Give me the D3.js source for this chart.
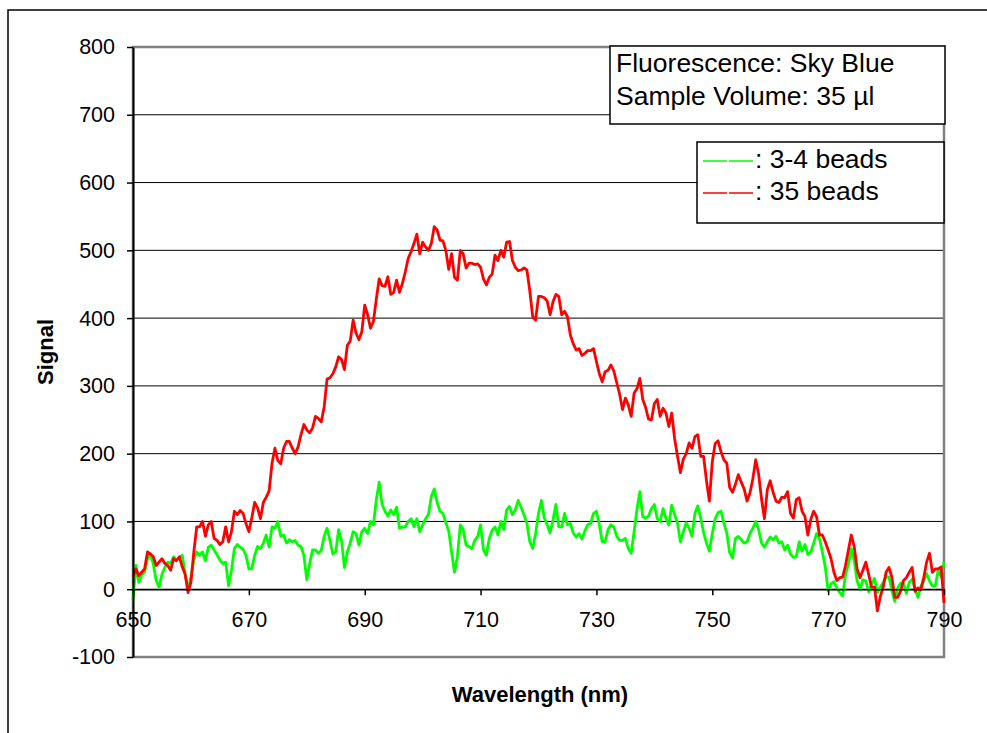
<!DOCTYPE html>
<html>
<head>
<meta charset="utf-8">
<script src="https://cdn.jsdelivr.net/npm/d3@7"></script>
<style>
  body { margin: 0; background: #fff; }
  text { font-family: "Liberation Sans", Arial, sans-serif; }
</style>
</head>
<body>
<div id="chart"></div>
<script>
// wavelength grid, 0.5 nm steps from 650 to 790
var wavelengths = d3.range(0, 281).map(function (i) { return 650 + i * 0.5; });

// 35 beads (red)
var beads35 = [
  18, 30, 20, 25, 30, 55, 52, 48, 35, 40, 45, 38, 35, 28, 45, 42, 48, 33, 22, -5,
  10, 55, 92, 92, 100, 78, 95, 100, 75, 72, 66, 70, 92, 70, 85, 115, 110, 116, 112, 97,
  85, 105, 128, 120, 104, 128, 136, 145, 186, 208, 190, 185, 208, 218, 218, 208, 200, 210, 228, 243,
  235, 231, 238, 255, 252, 247, 269, 310, 312, 318, 328, 343, 339, 324, 360, 366, 397, 378, 368, 380,
  419, 405, 385, 395, 428, 458, 448, 447, 461, 435, 438, 456, 438, 451, 468, 488, 498, 510, 524, 495,
  512, 505, 500, 510, 535, 530, 515, 514, 500, 472, 495, 460, 456, 500, 495, 474, 481, 481, 479, 480,
  475, 458, 449, 460, 465, 493, 485, 500, 490, 512, 513, 485, 475, 470, 471, 474, 471, 440, 402, 397,
  432, 432, 430, 425, 405, 424, 435, 432, 405, 410, 402, 375, 362, 353, 355, 345, 348, 352, 352, 355,
  336, 318, 306, 321, 323, 331, 322, 305, 288, 265, 282, 272, 255, 289, 296, 311, 280, 268, 251, 250,
  274, 280, 255, 267, 260, 240, 260, 222, 196, 172, 192, 200, 216, 208, 225, 228, 196, 196, 160, 130,
  188, 215, 219, 203, 191, 186, 150, 143, 155, 169, 158, 148, 130, 142, 163, 191, 170, 133, 104, 147,
  160, 143, 130, 128, 136, 135, 144, 112, 105, 132, 135, 115, 107, 80, 103, 115, 107, 80, 80, 70,
  58, 45, 25, 13, 17, 18, 35, 58, 80, 63, 30, 17, 28, 40, 22, 3, 3, -32, -11, 3,
  25, 32, 18, -12, -12, -3, 13, 17, 25, 32, -3, 2, -1, 17, 40, 53, 25, 30, 30, 33,
  -20
];

// 3-4 beads (green)
var beads34 = [
  -15, 35, 10, 21, 25, 45, 52, 38, 13, 3, 22, 32, 40, 38, 48, 43, 46, 50, 23, 0,
  18, 43, 55, 50, 55, 42, 62, 65, 58, 51, 43, 38, 40, 5, 28, 60, 66, 62, 59, 50,
  30, 30, 50, 63, 60, 68, 80, 62, 92, 90, 100, 78, 80, 68, 73, 70, 72, 65, 63, 50,
  14, 38, 58, 58, 53, 57, 78, 90, 72, 52, 55, 88, 72, 32, 55, 68, 85, 82, 65, 85,
  90, 82, 100, 95, 132, 158, 125, 115, 108, 117, 110, 121, 90, 92, 92, 100, 104, 92, 104, 85,
  95, 104, 110, 137, 148, 128, 115, 112, 98, 86, 55, 25, 48, 95, 88, 65, 63, 60, 72, 78,
  95, 58, 50, 75, 87, 92, 80, 100, 88, 117, 122, 110, 117, 131, 121, 110, 97, 70, 60, 82,
  112, 131, 105, 95, 83, 102, 125, 92, 92, 112, 95, 97, 83, 77, 82, 74, 86, 95, 97, 112,
  115, 95, 70, 70, 88, 95, 92, 78, 72, 72, 75, 60, 53, 85, 118, 144, 107, 105, 108, 119,
  125, 104, 100, 119, 104, 95, 124, 110, 97, 70, 85, 98, 90, 78, 112, 123, 105, 84, 68, 56,
  82, 104, 113, 115, 98, 83, 54, 46, 75, 78, 73, 68, 70, 82, 90, 100, 88, 68, 62, 70,
  77, 73, 78, 68, 70, 58, 65, 52, 47, 48, 70, 56, 66, 51, 55, 68, 82, 75, 55, 33,
  -2, 8, 11, 2, -5, -10, 22, 37, 60, 43, 12, 0, 14, 12, -4, 8, 16, -5, 3, 10,
  18, 18, -2, -18, 2, 9, 9, -6, 10, 15, 0, -12, 4, 12, 23, 12, 5, 5, 28, 18,
  40
];

var xTicks = [650, 670, 690, 710, 730, 750, 770, 790];
var yTicks = [-100, 0, 100, 200, 300, 400, 500, 600, 700, 800];
var infoLines = ["Fluorescence: Sky Blue", "Sample Volume: 35 \u00b5l"];
var seriesNames = [": 3-4 beads", ": 35 beads"];
var seriesColors = ["#00ff00", "#ff0000"];

var W = 987, H = 733;
var margin = {top: 47, right: 43, bottom: 76, left: 133};
var width = W - margin.left - margin.right,
    height = H - margin.top - margin.bottom;

var svg = d3.select("#chart").append("svg")
    .attr("width", W)
    .attr("height", H);

// outer chart frame (right and bottom run off the picture)
svg.append("rect")
    .attr("x", 8).attr("y", 10)
    .attr("width", W + 20).attr("height", H + 20)
    .attr("fill", "none").attr("stroke", "#000").attr("stroke-width", 1.5);

var x = d3.scaleLinear().domain([650, 790]).range([0, width]);
var y = d3.scaleLinear().domain([-100, 800]).range([height, 0]);

var g = svg.append("g")
    .attr("transform", "translate(" + margin.left + "," + margin.top + ")");

// gridlines
g.selectAll(".grid")
    .data(yTicks)
  .enter().append("line")
    .attr("x1", 0).attr("x2", width)
    .attr("y1", function (d) { return y(d); })
    .attr("y2", function (d) { return y(d); })
    .attr("stroke", "#000").attr("stroke-width", 1);

// plot frame
g.append("rect")
    .attr("width", width).attr("height", height)
    .attr("fill", "none").attr("stroke", "#808080").attr("stroke-width", 2.5);

// series lines
var line = d3.line()
    .x(function (d, i) { return x(wavelengths[i]); })
    .y(function (d) { return y(d); });

[beads34, beads35].forEach(function (s, k) {
  g.append("path")
      .datum(s)
      .attr("fill", "none")
      .attr("stroke", seriesColors[k])
      .attr("stroke-width", 2.8)
      .attr("stroke-linejoin", "round")
      .attr("d", line);
});

var fmt = function (d) { return String(d); };   // plain hyphen for -100

// y axis
var yAxis = g.append("g")
    .call(d3.axisLeft(y).tickValues(yTicks).tickFormat(fmt)
      .tickSize(6).tickSizeOuter(0).tickPadding(12));
yAxis.select(".domain").attr("stroke", "#000").attr("stroke-width", 2);
yAxis.selectAll(".tick line").attr("stroke", "#000").attr("stroke-width", 1.5);
yAxis.selectAll("text").attr("font-size", 21.5).attr("fill", "#000")
    .style("font-family", "Liberation Sans, Arial, sans-serif");

// x axis sits on zero
var xAxis = g.append("g")
    .attr("transform", "translate(0," + y(0) + ")")
    .call(d3.axisBottom(x).tickValues(xTicks).tickFormat(fmt)
      .tickSize(6).tickSizeOuter(0).tickPadding(17));
xAxis.select(".domain").attr("stroke", "#000").attr("stroke-width", 1.5);
xAxis.selectAll(".tick line").attr("stroke", "#000").attr("stroke-width", 1.5);
xAxis.selectAll("text").attr("font-size", 21.5).attr("fill", "#000")
    .style("font-family", "Liberation Sans, Arial, sans-serif");

// axis titles
svg.append("text")
    .attr("transform", "translate(53," + (margin.top + y(350)) + ") rotate(-90)")
    .attr("text-anchor", "middle")
    .attr("font-size", 22).attr("font-weight", "bold")
    .text("Signal");

svg.append("text")
    .attr("x", 540).attr("y", 702)
    .attr("text-anchor", "middle")
    .attr("font-size", 22).attr("font-weight", "bold")
    .text("Wavelength (nm)");

// info box
svg.append("rect")
    .attr("x", 610).attr("y", 46).attr("width", 335).attr("height", 78)
    .attr("fill", "#fff").attr("stroke", "#000").attr("stroke-width", 1.5);
svg.selectAll(".info")
    .data(infoLines)
  .enter().append("text")
    .attr("x", 616)
    .attr("y", function (d, i) { return 72 + i * 33; })
    .attr("font-size", 26.5)
    .text(function (d) { return d; });

// legend box
svg.append("rect")
    .attr("x", 697).attr("y", 142).attr("width", 247).attr("height", 81)
    .attr("fill", "#fff").attr("stroke", "#000").attr("stroke-width", 1.5);
seriesNames.forEach(function (name, k) {
  var ly = 161 + k * 32;
  svg.append("line")
      .attr("x1", 703).attr("x2", 755)
      .attr("y1", ly).attr("y2", ly)
      .attr("stroke", seriesColors[k]).attr("stroke-width", 1.5)
      .attr("stroke-dasharray", "24,2");
  svg.append("text")
      .attr("x", 755).attr("y", ly + 7)
      .attr("font-size", 26.5)
      .text(name);
});
</script>
</body>
</html>
